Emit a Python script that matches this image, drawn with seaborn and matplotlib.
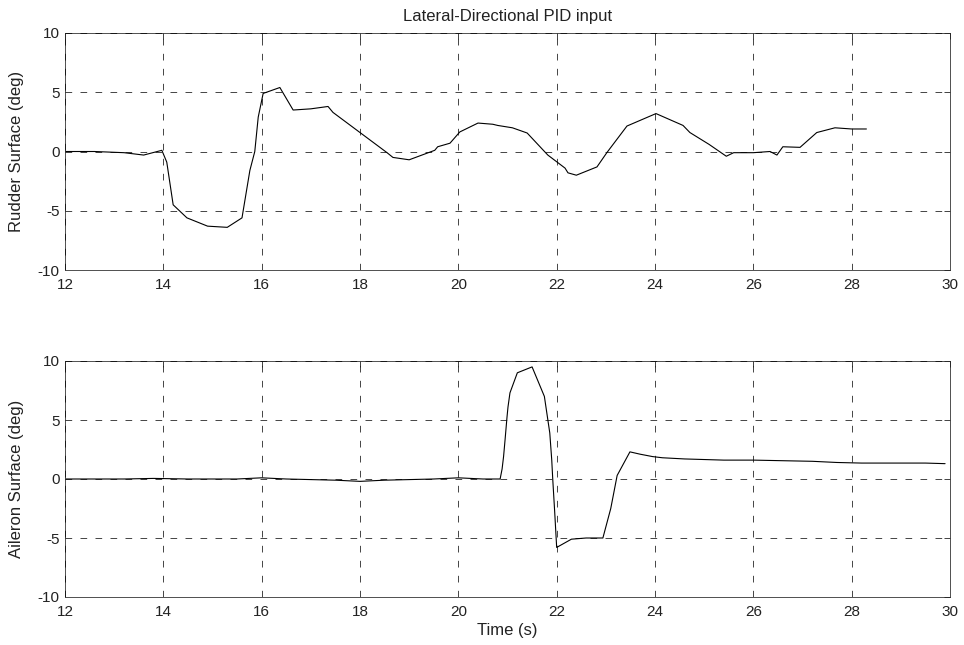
import numpy as np
import pandas as pd
import matplotlib
matplotlib.use("Agg")
import matplotlib.pyplot as plt
import seaborn as sns

# ---- data ----
rudder_t = [12.0, 12.6, 13.2, 13.6, 13.97, 14.07, 14.2, 14.48, 14.9, 15.3, 15.6,
            15.76, 15.86, 15.93, 16.03, 16.37, 16.64, 17.0, 17.35, 17.45, 18.0,
            18.55, 18.67, 19.0, 19.52, 19.58, 19.83, 20.03, 20.4, 20.7, 20.8,
            21.1, 21.4, 21.82, 22.17, 22.23, 22.4, 22.82, 23.02, 23.43, 24.02,
            24.57, 24.71, 25.1, 25.45, 25.6, 26.0, 26.34, 26.48, 26.6, 26.95,
            27.29, 27.66, 28.0, 28.3]
rudder_v = [0.0, 0.0, -0.1, -0.3, 0.1, -0.9, -4.5, -5.6, -6.3, -6.4, -5.6,
            -1.6, 0.0, 2.9, 4.9, 5.4, 3.5, 3.6, 3.8, 3.3, 1.6,
            -0.1, -0.5, -0.7, 0.1, 0.4, 0.7, 1.65, 2.4, 2.3, 2.2,
            2.0, 1.56, -0.3, -1.4, -1.8, -2.0, -1.3, -0.1, 2.15, 3.2,
            2.2, 1.6, 0.6, -0.4, -0.1, -0.1, 0.0, -0.3, 0.4, 0.35,
            1.6, 2.0, 1.9, 1.9]

aileron_t = [12.0, 13.2, 13.8, 14.5, 15.5, 16.0, 16.5, 17.5, 18.0, 18.5, 19.5,
             20.0, 20.5, 20.85, 20.89, 20.92, 20.95, 20.99, 21.01, 21.05, 21.2,
             21.5, 21.75, 21.86, 21.9, 21.92, 21.96, 22.0, 22.3, 22.6, 22.94,
             23.1, 23.23, 23.49, 23.7, 23.95, 24.15, 24.6, 25.4, 26.0, 26.6,
             27.2, 27.7, 28.2, 28.75, 29.5, 29.9]
aileron_v = [0.0, 0.0, 0.05, 0.0, 0.0, 0.1, 0.0, -0.1, -0.2, -0.1, 0.0,
             0.1, 0.0, 0.0, 0.85, 1.9, 3.3, 5.25, 6.1, 7.3, 9.0,
             9.5, 7.0, 3.9, 1.6, 0.0, -2.8, -5.8, -5.1, -5.0, -5.0,
             -2.5, 0.3, 2.3, 2.1, 1.9, 1.8, 1.7, 1.6, 1.6, 1.55,
             1.5, 1.4, 1.35, 1.35, 1.35, 1.3]

x_ticks = [12, 14, 16, 18, 20, 22, 24, 26, 28, 30]
y_ticks = [-10, -5, 0, 5, 10]

title_text = "Lateral-Directional PID input"
ylabels = ["Rudder Surface (deg)", "Aileron Surface (deg)"]
xlabel_text = "Time (s)"

# ---- style ----
sns.set_theme(style="white")
plt.rcParams["font.family"] = ["Liberation Sans", "DejaVu Sans"]

W, H = 964, 645
fig = plt.figure(figsize=(W / 100, H / 100), dpi=100)
fig.patch.set_facecolor("white")

left = 65 / W
width = (950 - 65) / W
ax1 = fig.add_axes([left, 1 - 270 / H, width, (270 - 33) / H])
ax2 = fig.add_axes([left, 1 - 597 / H, width, (597 - 361) / H])

df_r = pd.DataFrame({"t": rudder_t, "v": rudder_v})
df_a = pd.DataFrame({"t": aileron_t, "v": aileron_v})

sns.lineplot(data=df_r, x="t", y="v", ax=ax1, color="black", lw=0.8,
             estimator=None, sort=False)
sns.lineplot(data=df_a, x="t", y="v", ax=ax2, color="black", lw=0.8,
             estimator=None, sort=False)

for ax, yl in zip([ax1, ax2], ylabels):
    ax.set_xlim(12, 30)
    ax.set_ylim(-10, 10)
    ax.set_xticks(x_ticks)
    ax.set_yticks(y_ticks)
    ax.set_xticklabels([str(v) for v in x_ticks])
    ax.set_yticklabels([str(v) for v in y_ticks])
    ax.grid(True, linestyle=(0, (8, 10)), color="black", lw=0.6, alpha=0.85)
    ax.set_axisbelow(False)
    for s in ax.spines.values():
        s.set_visible(True)
        s.set_color("#333333")
        s.set_linewidth(0.6)
    ax.tick_params(direction="in", length=4, width=0.6, colors="#222222",
                   labelsize=11, top=True, right=True, pad=4)
    ax.tick_params(axis="x", pad=6)
    ax.set_xlabel("")
    ax.set_ylabel(yl, fontsize=12, color="#222222")
    ax.yaxis.set_label_coords(-0.046, 0.5)

ax1.set_title(title_text, fontsize=12, color="#222222", pad=9)
ax2.set_xlabel(xlabel_text, fontsize=12, color="#222222", labelpad=3)

fig.savefig("out.png", dpi=100, facecolor="white")
